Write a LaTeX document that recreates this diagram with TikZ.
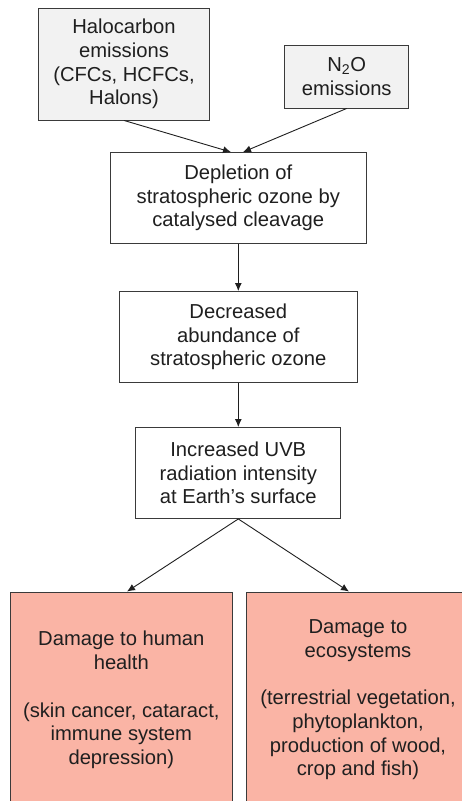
\documentclass[tikz,border=0pt]{standalone}
\usepackage{fontspec}
\setmainfont{Liberation Sans}
\usepackage{tikz}
\usetikzlibrary{arrows.meta}
\definecolor{boxline}{HTML}{3A3A3A}
\definecolor{txtgray}{HTML}{1F1F1F}
\definecolor{emgray}{HTML}{F2F2F2}
\definecolor{dmgpink}{HTML}{FAB4A5}
\begin{document}
\begin{tikzpicture}[x=1pt,y=-1pt,
  box/.style={draw=boxline,line width=0.9pt,text=txtgray,inner sep=0pt,align=center,
    font=\fontsize{20.2}{23.7}\selectfont},
  embox/.style={box,fill=emgray},
  dmgbox/.style={box,fill=dmgpink,minimum width=222.7pt,minimum height=216pt},
  arr/.style={-{Latex[length=8pt,width=7pt]},draw=txtgray,line width=0.9pt}]
\useasboundingbox (0,0) rectangle (462,801);
\clip (0,0) rectangle (462,801);
\fill[white] (0,0) rectangle (462,801);
% sources
\node[embox,minimum width=170.6pt,minimum height=112pt] (hal) at (124,64) {Halocarbon\\emissions\\(CFCs, HCFCs,\\Halons)};
\node[embox,minimum width=124pt,minimum height=63pt] (nox) at (346.7,76.5) {N\textsubscript{2}O\\emissions};
% chain
\node[box,minimum width=255.3pt,minimum height=91pt] (depl) at (238.3,198) {Depletion of\\stratospheric ozone by\\catalysed cleavage};
\node[box,minimum width=238pt,minimum height=91pt] (decr) at (238.3,337) {Decreased\\abundance of\\stratospheric ozone};
\node[box,minimum width=205pt,minimum height=91pt] (uvb) at (238.3,473) {Increased UVB\\radiation intensity\\at Earth’s surface};
% effects
\node[dmgbox] (hum) at (121.3,700) {Damage to human\\health\\[23.7pt](skin cancer, cataract,\\immune system\\depression)};
\node[dmgbox] (eco) at (358,700) {Damage to\\ecosystems\\[23.7pt](terrestrial vegetation,\\phytoplankton,\\production of wood,\\crop and fish)};
\draw[arr] (hal.south) -- ([xshift=-7.3pt]depl.north);
\draw[arr] (nox.south) -- ([xshift=4.7pt]depl.north);
\draw[arr] (depl) -- (decr);
\draw[arr] (decr) -- (uvb);
\draw[arr] (uvb.south) -- ([xshift=5.7pt]hum.north);
\draw[arr] (uvb.south) -- ([xshift=-9pt]eco.north);
\end{tikzpicture}
\end{document}
